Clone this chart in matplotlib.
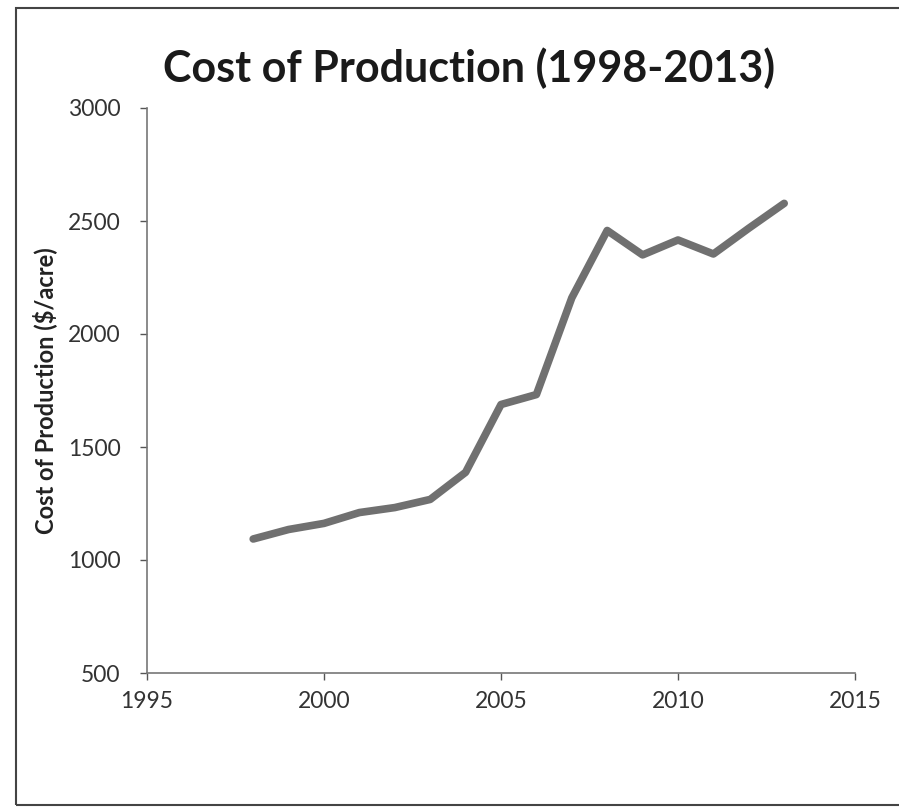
import matplotlib
matplotlib.use("Agg")
import matplotlib.pyplot as plt
from matplotlib.patches import Rectangle

years = [1998, 1999, 2000, 2001, 2002, 2003, 2004, 2005,
         2006, 2007, 2008, 2009, 2010, 2011, 2012, 2013]
cost = [1093, 1135, 1162, 1210, 1232, 1268, 1388, 1688,
        1732, 2160, 2458, 2350, 2416, 2354, 2468, 2578]

x_ticks = [1995, 2000, 2005, 2010, 2015]
y_ticks = [500, 1000, 1500, 2000, 2500, 3000]

plt.rcParams['font.family'] = ['Lato', 'DejaVu Sans']

fig = plt.figure(figsize=(8.99, 8.08), dpi=100)
ax = fig.add_axes([147 / 899, 1 - 673 / 808, 708 / 899, 565 / 808])

ax.plot(years, cost, color='#707070', linewidth=5.5, solid_capstyle='round',
        solid_joinstyle='round')

ax.set_xlim(1995, 2015)
ax.set_ylim(500, 3000)
ax.set_xticks(x_ticks)
ax.set_yticks(y_ticks)
ax.tick_params(axis='both', labelsize=16.5, colors='#555555', length=5,
               width=1, direction='out', labelcolor='#333333')
ax.tick_params(axis='y', pad=14)
ax.tick_params(axis='x', pad=8)
for side in ('top', 'right'):
    ax.spines[side].set_visible(False)
for side in ('left', 'bottom'):
    ax.spines[side].set_color('#777777')
    ax.spines[side].set_linewidth(1.2)

ax.set_ylabel('Cost of Production ($/acre)', fontsize=17, fontweight='bold',
              color='#222222', labelpad=8)
fig.text(0.522, 1 - 68 / 808, 'Cost of Production (1998-2013)', ha='center',
         va='center', fontsize=31, fontweight='bold', color='#1a1a1a')

# outer chart frame
fig.patches.append(Rectangle((16 / 899, 1 - 805 / 808), 1.0, 797 / 808,
                             transform=fig.transFigure, fill=False,
                             edgecolor='#444444', linewidth=1.5))

fig.savefig('out.png', dpi=100)
